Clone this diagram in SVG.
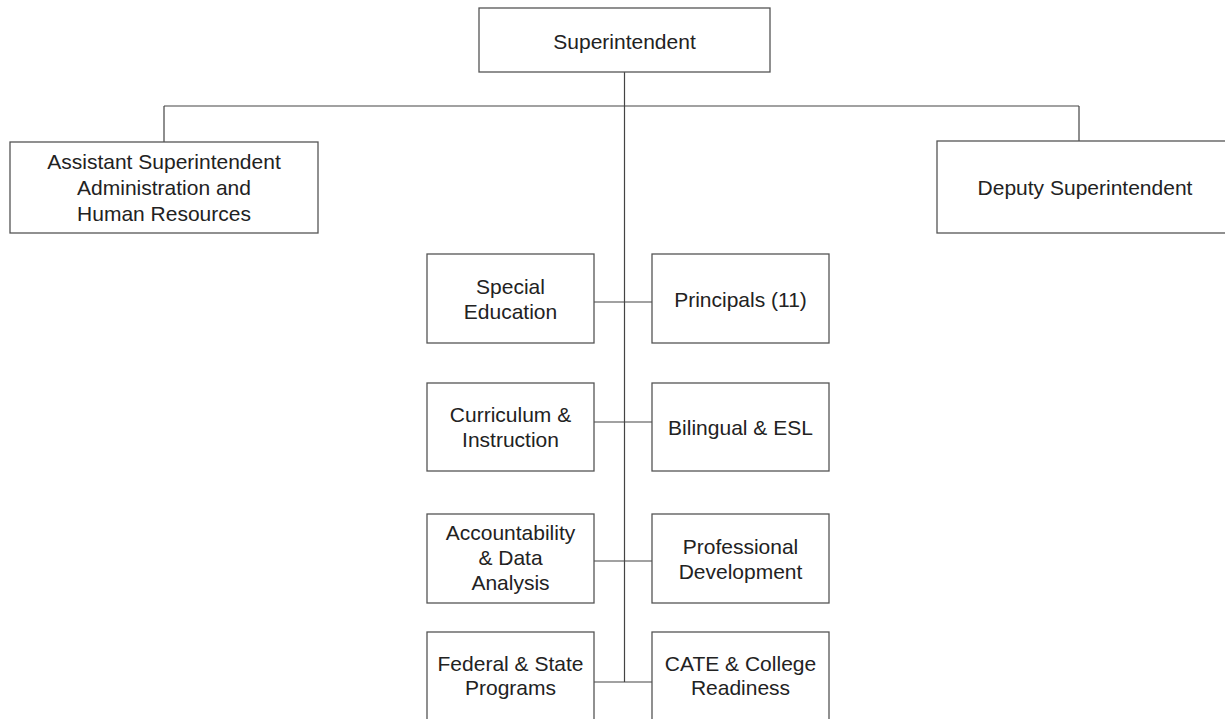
<svg xmlns="http://www.w3.org/2000/svg" width="1225" height="719" viewBox="0 0 1225 719">
<style>
.box{fill:#fff;stroke:#555;stroke-width:1.3}
.t{font-family:"Liberation Sans",Arial,sans-serif;font-size:21px;fill:#222;text-anchor:middle}
.c{fill:none;stroke:#444;stroke-width:1.2}
</style>
<rect width="1225" height="719" fill="#fff"/>
<g id="connectors">
<path class="c" d="M624.5 72V682M164 106H1079M164 106V142M1079 106V141M594 302H652M594 422H652M594 561H652M594 682H652"/>
</g>
<g id="superintendent"><rect class="box" x="479" y="8" width="291" height="64"/><text class="t" x="624.5" y="49">Superintendent</text></g>
<g id="asst"><rect class="box" x="10" y="142" width="308" height="91"/><text class="t" x="164" y="169">Assistant Superintendent</text><text class="t" x="164" y="195">Administration and</text><text class="t" x="164" y="221">Human Resources</text></g>
<g id="deputy"><rect class="box" x="937" y="141" width="296" height="92"/><text class="t" x="1085" y="195">Deputy Superintendent</text></g>
<g id="sped"><rect class="box" x="427" y="254" width="167" height="89"/><text class="t" x="510.5" y="294">Special</text><text class="t" x="510.5" y="319">Education</text></g>
<g id="principals"><rect class="box" x="652" y="254" width="177" height="89"/><text class="t" x="740.5" y="307">Principals (11)</text></g>
<g id="curriculum"><rect class="box" x="427" y="383" width="167" height="88"/><text class="t" x="510.5" y="422">Curriculum &amp;</text><text class="t" x="510.5" y="447">Instruction</text></g>
<g id="bilingual"><rect class="box" x="652" y="383" width="177" height="88"/><text class="t" x="740.5" y="435">Bilingual &amp; ESL</text></g>
<g id="accountability"><rect class="box" x="427" y="514" width="167" height="89"/><text class="t" x="510.5" y="540">Accountability</text><text class="t" x="510.5" y="565">&amp; Data</text><text class="t" x="510.5" y="590">Analysis</text></g>
<g id="profdev"><rect class="box" x="652" y="514" width="177" height="89"/><text class="t" x="740.5" y="554">Professional</text><text class="t" x="740.5" y="579">Development</text></g>
<g id="federal"><rect class="box" x="427" y="632" width="167" height="89"/><text class="t" x="510.5" y="671">Federal &amp; State</text><text class="t" x="510.5" y="695">Programs</text></g>
<g id="cate"><rect class="box" x="652" y="632" width="177" height="89"/><text class="t" x="740.5" y="671">CATE &amp; College</text><text class="t" x="740.5" y="695">Readiness</text></g>
</svg>
